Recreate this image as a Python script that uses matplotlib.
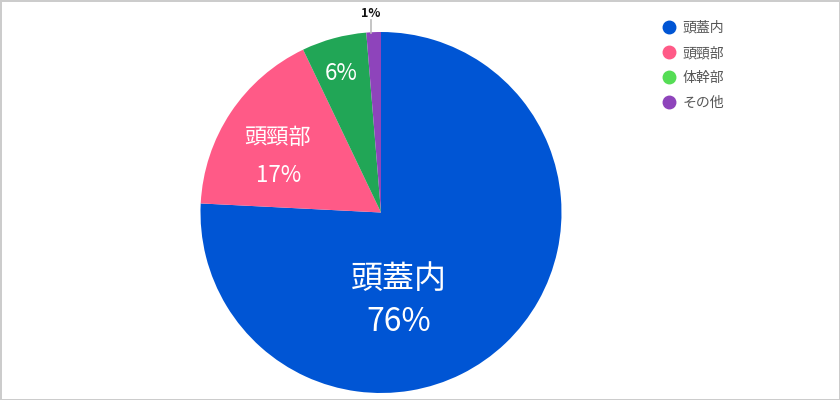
import matplotlib
matplotlib.use("Agg")
import matplotlib.pyplot as plt
from matplotlib.lines import Line2D

plt.rcParams['font.family'] = ['Noto Sans CJK JP', 'DejaVu Sans']

categories = ["頭蓋内", "頭頸部", "体幹部", "その他"]
values = [75.8, 17.1, 5.8, 1.3]
pct_labels = ["76%", "17%", "6%", "1%"]
pie_colors = ["#0055d4", "#ff5a87", "#21a656", "#8e44bb"]
legend_colors = ["#0055d4", "#ff5a87", "#55dd55", "#8e44bb"]

fig = plt.figure(figsize=(8.4, 4), dpi=100, facecolor="white",
                 edgecolor="#cccccc", linewidth=1)
R = 180.5
ax = fig.add_axes([(381 - 181) / 840, (400 - 212.5 - 181) / 400, 362 / 840, 362 / 400])
ax.pie(values, colors=pie_colors, startangle=90, counterclock=False,
       radius=1, wedgeprops=dict(linewidth=0))
lim = 181 / R
ax.set_xlim(-lim, lim)
ax.set_ylim(-lim, lim)
ax.set_aspect("equal")
ax.axis("off")

# labels inside slices
ax.text(0.10, -0.367, categories[0], color="white", fontsize=23, ha="center", va="center")
ax.text(0.10, -0.605, pct_labels[0], color="white", fontsize=23, ha="center", va="center")
ax.text(-0.572, 0.417, categories[1], color="white", fontsize=16, ha="center", va="center")
ax.text(-0.567, 0.205, pct_labels[1], color="white", fontsize=16, ha="center", va="center")
ax.text(-0.222, 0.772, pct_labels[2], color="white", fontsize=16, ha="center", va="center")

# small slice outside label with leader
ax.plot([-0.055, -0.055], [0.995, 1.066], color="#bbbbbb", lw=1.2, clip_on=False)
ax.text(-0.055, 1.105, pct_labels[3], color="#111111", fontsize=9, fontweight="bold",
        ha="center", va="center")

handles = [Line2D([0], [0], marker="o", linestyle="none", markersize=9,
                  markerfacecolor=c, markeredgecolor=c) for c in legend_colors]
fig.legend(handles, categories, loc="upper left", bbox_to_anchor=(662 / 840, 1 - 21 / 400),
           frameon=False, fontsize=10, labelcolor="#555555", handlelength=1.0,
           handletextpad=0.5, labelspacing=0.8, borderpad=0, borderaxespad=0)

fig.savefig("out.png", dpi=100, facecolor="white", edgecolor=fig.get_edgecolor())
